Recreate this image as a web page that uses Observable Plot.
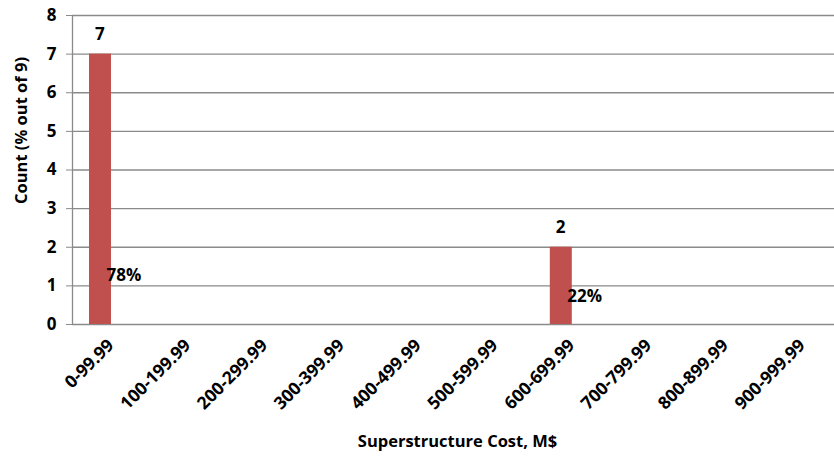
<!DOCTYPE html>
<html>
<head>
<meta charset="utf-8">
<script src="https://cdn.jsdelivr.net/npm/d3@7"></script>
<script src="https://cdn.jsdelivr.net/npm/@observablehq/plot@0.6"></script>
<style>
  html, body { margin: 0; padding: 0; background: #fff; }
  #chart svg { display: block; }
</style>
</head>
<body>
<div id="chart"></div>
<script>
const categories = ["0-99.99","100-199.99","200-299.99","300-399.99","400-499.99","500-599.99","600-699.99","700-799.99","800-899.99","900-999.99"];
const counts = [7, 0, 0, 0, 0, 0, 2, 0, 0, 0];
const shares = [0.78, 0, 0, 0, 0, 0, 0.22, 0, 0, 0];
const yTicks = [0, 1, 2, 3, 4, 5, 6, 7, 8];
const xTitle = "Superstructure Cost, M$";
const yTitle = "Count (% out of 9)";

const rows = categories.map((c, i) => ({category: c, count: counts[i], share: shares[i]}));
const nonZero = rows.filter(d => d.count > 0);

const FONT = "'Open Sans', sans-serif";
const GRID = "#8a8a8a";

const chart = Plot.plot({
  width: 834,
  height: 457,
  marginLeft: 72,
  marginRight: 0,
  marginTop: 15,
  marginBottom: 133,
  style: {fontFamily: FONT, fontWeight: "bold", color: "#000", background: "#fff"},
  x: {domain: categories, padding: 0, round: false, range: [72, 840], label: null},
  y: {domain: [0, 8], label: null},
  marks: [
    Plot.ruleY(yTicks, {stroke: GRID, strokeWidth: 1.3}),
    Plot.ruleX([categories[0]], {stroke: GRID, strokeWidth: 1.3, dx: -38.4}),
    Plot.axisY({ticks: yTicks, tickSize: 6, tickPadding: 10, fontSize: 17, fontWeight: "bold", stroke: GRID, tickFormat: d3.format("d")}),
    Plot.axisX({tickSize: 0, tickPadding: 18, tickRotate: -45, fontSize: 17.5, fontWeight: "bold"}),
    Plot.barY(rows, {x: "category", y: "count", fill: "#C0504D", insetLeft: 17, insetRight: 37.8}),
    Plot.text(nonZero, {x: "category", y: "count", text: d => String(d.count), dx: -11, dy: -20, fontSize: 17, fontWeight: "bold", fill: "#000"}),
    Plot.text(nonZero, {x: "category", y: "share", text: d => d3.format(".0%")(d.share), dx: 13, dy: -19, fontSize: 17, fontWeight: "bold", fill: "#000"}),
    Plot.text([xTitle], {frameAnchor: "bottom", dx: 4, dy: 122, fontSize: 16.5, fontWeight: "bold", fill: "#000"}),
    Plot.text([yTitle], {frameAnchor: "left", dx: -51, dy: 34, rotate: -90, fontSize: 16.5, fontWeight: "bold", fill: "#000"})
  ]
});
document.getElementById("chart").append(chart);
</script>
</body>
</html>
